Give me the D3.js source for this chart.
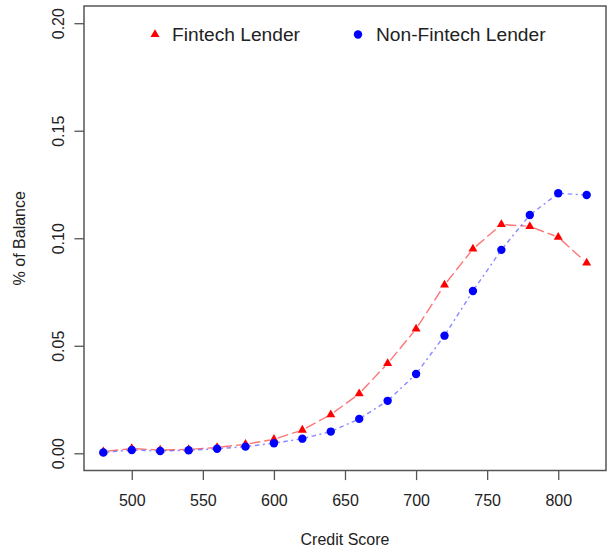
<!DOCTYPE html>
<html>
<head>
<meta charset="utf-8">
<script src="https://cdn.jsdelivr.net/npm/d3@7/dist/d3.min.js"></script>
<style>
  html, body { margin: 0; padding: 0; background: #fff; }
  svg { display: block; font-family: "Liberation Sans", Arial, Helvetica, sans-serif; }
</style>
</head>
<body>
<svg id="chart" width="610" height="550"></svg>
<script>
// ---- data ----
const creditScores = [480, 500, 520, 540, 560, 580, 600, 620, 640, 660, 680, 700, 720, 740, 760, 780, 800, 820];
const fintechValues = [0.0008, 0.0022, 0.0015, 0.0018, 0.0027, 0.0042, 0.0065, 0.0108, 0.0180, 0.0277, 0.0418, 0.0578, 0.0783, 0.0950, 0.1064, 0.1055, 0.1005, 0.0885];
const nonFintechValues = [0.0004, 0.0015, 0.0011, 0.0014, 0.0021, 0.0031, 0.0047, 0.0068, 0.0101, 0.0160, 0.0244, 0.0369, 0.0547, 0.0755, 0.0946, 0.1108, 0.1209, 0.1201];
const xTickValues = [500, 550, 600, 650, 700, 750, 800];
const yTickValues = [0.00, 0.05, 0.10, 0.15, 0.20];
const seriesNames = ["Fintech Lender", "Non-Fintech Lender"];
const xTitle = "Credit Score";
const yTitle = "% of Balance";

// ---- layout ----
const plot = { left: 84, right: 606, top: 6, bottom: 470.5 };
const svg = d3.select("#chart");

// R-style 4% extension
const xMin = 480, xMax = 820, yMin = 0, yMax = 0.2;
const xPad = (xMax - xMin) * 0.04, yPad = (yMax - yMin) * 0.04;
const x = d3.scaleLinear().domain([xMin - xPad, xMax + xPad]).range([plot.left, plot.right]);
const y = d3.scaleLinear().domain([yMin - yPad, yMax + yPad]).range([plot.bottom, plot.top]);

const axisColor = "#555";
const textColor = "#222";
const tickLen = 9.6;

// x axis
const gx = svg.append("g")
  .attr("transform", `translate(0,${plot.bottom})`)
  .call(d3.axisBottom(x).tickValues(xTickValues).tickSize(tickLen).tickPadding(13).tickFormat(d3.format("d")));
gx.select(".domain").remove();
gx.selectAll(".tick line").attr("stroke", axisColor).attr("stroke-width", 1.3);
gx.selectAll(".tick text").attr("font-size", 16).attr("fill", textColor)
  .attr("font-family", "Liberation Sans, Arial, sans-serif")
  .attr("dy", null).attr("y", 35.5);

// y axis
const gy = svg.append("g")
  .attr("transform", `translate(${plot.left},0)`)
  .call(d3.axisLeft(y).tickValues(yTickValues).tickSize(tickLen).tickFormat(d3.format(".2f")));
gy.select(".domain").remove();
gy.selectAll(".tick line").attr("stroke", axisColor).attr("stroke-width", 1.3);
gy.selectAll(".tick text")
  .attr("font-size", 16).attr("fill", textColor)
  .attr("font-family", "Liberation Sans, Arial, sans-serif")
  .attr("x", null).attr("dy", null)
  .attr("text-anchor", "middle")
  .attr("transform", `translate(${63.5 - plot.left},0) rotate(-90)`);

// box
svg.append("rect")
  .attr("x", plot.left).attr("y", plot.top)
  .attr("width", plot.right - plot.left).attr("height", plot.bottom - plot.top)
  .attr("fill", "none").attr("stroke", axisColor).attr("stroke-width", 1.5);

// titles
svg.append("text")
  .attr("x", (plot.left + plot.right) / 2).attr("y", 545)
  .attr("text-anchor", "middle").attr("font-size", 16).attr("fill", textColor)
  .text(xTitle);
svg.append("text")
  .attr("transform", `translate(25,${(plot.top + plot.bottom) / 2}) rotate(-90)`)
  .attr("text-anchor", "middle").attr("font-size", 16).attr("fill", textColor)
  .text(yTitle);

// ---- series ----
const fintechData = creditScores.map((c, i) => ({ x: c, y: fintechValues[i] }));
const nonFintechData = creditScores.map((c, i) => ({ x: c, y: nonFintechValues[i] }));

// type="b"-like segments with small gaps around points
function segments(data, gap) {
  const segs = [];
  for (let i = 0; i < data.length - 1; i++) {
    const x1 = x(data[i].x), y1 = y(data[i].y), x2 = x(data[i + 1].x), y2 = y(data[i + 1].y);
    const dx = x2 - x1, dy = y2 - y1, len = Math.hypot(dx, dy);
    if (len <= 2 * gap) continue;
    const ux = dx / len, uy = dy / len;
    segs.push([[x1 + ux * gap, y1 + uy * gap], [x2 - ux * gap, y2 - uy * gap]]);
  }
  return segs;
}
const line = d3.line();

svg.append("g").selectAll("path")
  .data(segments(fintechData, 4))
  .join("path")
  .attr("d", d => line(d))
  .attr("fill", "none").attr("stroke", "#ff3a3a").attr("stroke-opacity", 0.7)
  .attr("stroke-width", 1.4).attr("stroke-dasharray", "11,4");

svg.append("g").selectAll("path")
  .data(segments(nonFintechData, 4))
  .join("path")
  .attr("d", d => line(d))
  .attr("fill", "none").attr("stroke", "#4a4aff").attr("stroke-opacity", 0.65)
  .attr("stroke-width", 1.4).attr("stroke-dasharray", "2,3.5,4.5,3.5");

const triR = 5.2;
const triangle = (r) => `M0,${-r}L${r * 0.866},${r / 2}L${-r * 0.866},${r / 2}Z`;

svg.append("g").selectAll("path")
  .data(fintechData)
  .join("path")
  .attr("transform", d => `translate(${x(d.x)},${y(d.y)})`)
  .attr("d", triangle(triR))
  .attr("fill", "#ff0000");

svg.append("g").selectAll("circle")
  .data(nonFintechData)
  .join("circle")
  .attr("cx", d => x(d.x)).attr("cy", d => y(d.y))
  .attr("r", 4.2)
  .attr("fill", "#0000ff");

// ---- legend ----
const legend = svg.append("g");
legend.append("path")
  .attr("transform", "translate(155,34.5)")
  .attr("d", triangle(triR))
  .attr("fill", "#ff0000");
legend.append("text")
  .attr("x", 172).attr("y", 40.5)
  .attr("font-size", 19.2).attr("fill", textColor)
  .text(seriesNames[0]);
legend.append("circle")
  .attr("cx", 358).attr("cy", 34.5).attr("r", 4.2)
  .attr("fill", "#0000ff");
legend.append("text")
  .attr("x", 376).attr("y", 40.5)
  .attr("font-size", 19.2).attr("fill", textColor)
  .text(seriesNames[1]);
</script>
</body>
</html>
